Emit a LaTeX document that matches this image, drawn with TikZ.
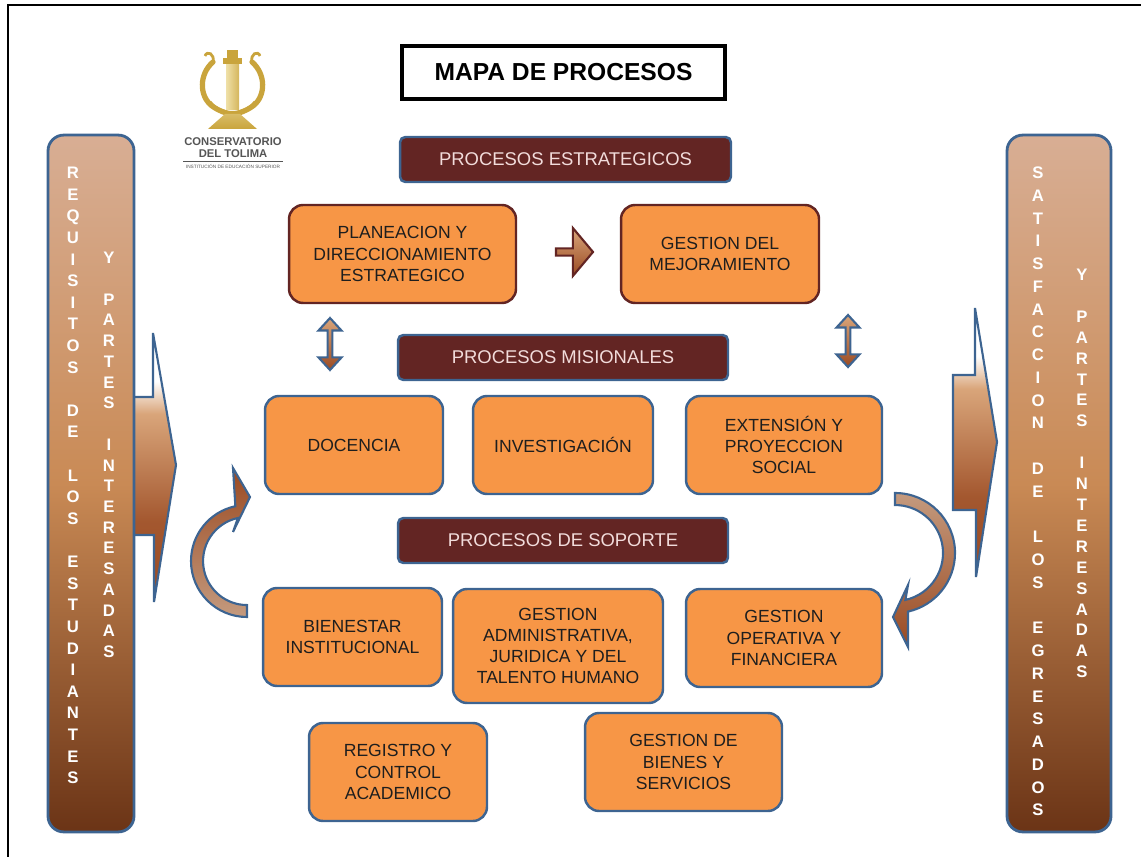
\documentclass[tikz,border=0pt]{standalone}
\usepackage{fontspec}
\setmainfont{Liberation Sans}
\usetikzlibrary{shapes.arrows}
\definecolor{naranja}{HTML}{F79646}
\definecolor{azulborde}{HTML}{3D6491}
\definecolor{vino}{HTML}{632523}
\definecolor{rosado}{HTML}{F2DCDB}
\definecolor{texto}{HTML}{1E1E1E}
\definecolor{canela}{HTML}{D8AE94}
\definecolor{cafemedio}{HTML}{C98A55}
\definecolor{cafeoscuro}{HTML}{6B3416}
\definecolor{flechaclara}{HTML}{D9A57A}
\definecolor{flechaoscura}{HTML}{9A4A22}
\definecolor{curvaclara}{HTML}{C49A7E}
\definecolor{oro}{HTML}{C9A43C}
\definecolor{oroclaro}{HTML}{EFE0A8}
\definecolor{gris}{HTML}{555555}
\pgfdeclareverticalshading{flechagrande}{100bp}{color(0bp)=(flechaoscura); color(25bp)=(flechaoscura); color(40bp)=(flechaoscura!85!flechaclara); color(60bp)=(flechaclara); color(66bp)=(white); color(100bp)=(white)}

\begin{document}
\begin{tikzpicture}[x=0.02cm,y=-0.02cm,
  proceso/.style={draw=azulborde, line width=1.4pt, fill=naranja, rounded corners=8pt,
    align=center, text=texto, font=\fontsize{10}{12}\selectfont, minimum height=1.96cm, inner sep=2pt},
  estrategico/.style={proceso, draw=vino},
  encabezado/.style={draw=azulborde, line width=1.4pt, fill=vino, rounded corners=3pt,
    text=rosado, font=\fontsize{10.5}{12}\selectfont, minimum width=6.62cm, minimum height=0.9cm},
  barra/.style={draw=azulborde, line width=1.6pt, rounded corners=9pt, minimum height=13.94cm,
    top color=canela, bottom color=cafeoscuro, middle color=cafemedio},
  letras/.style={text=white, align=center, inner sep=0pt, font=\bfseries\fontsize{9.5}{#1}\selectfont},
  bloque/.style={draw=azulborde, line width=1.2pt},
  doble/.style={bloque, double arrow, shape border rotate=90, minimum height=1.04cm, minimum width=0.46cm,
    double arrow head extend=0.08cm, double arrow tip angle=85, inner sep=0pt,
    top color=flechaclara, bottom color=flechaoscura}]
\useasboundingbox (0,0) rectangle (1141,857);

% marco
\draw[line width=1.6pt] (8,857) -- (8,5) -- (1141,5);

% logo
\draw[oro, line width=3pt, line cap=round] (213,62) .. controls (199,74) and (199,96) .. (212,106) .. controls (219,111) and (226,113) .. (232,115);
\draw[oro, line width=3pt, line cap=round] (252,62) .. controls (266,74) and (266,96) .. (253,106) .. controls (246,111) and (239,113) .. (233,115);
\draw[oro, line width=1.6pt] (213,62) .. controls (215,54) and (207,50) .. (205,56);
\draw[oro, line width=1.6pt] (252,62) .. controls (250,54) and (258,50) .. (260,56);
\draw[oro, line width=1.8pt] (210,102) .. controls (220,116) and (245,116) .. (255,102);
\shade[left color=oroclaro, right color=oro!70!oroclaro] (226,64) rectangle (239,110);
\fill[oro] (223,58) rectangle (242,64);
\fill[oro] (227,50) rectangle (238,58);
\shade[top color=oro!60!oroclaro, bottom color=oro] (225,114) -- (240,114) -- (257,129) -- (208,129) -- cycle;
\node[font=\bfseries\fontsize{6.4}{7}\selectfont, text=gris, inner sep=0pt] (conserv) at (233,142) {CONSERVATORIO};
\node[font=\bfseries\fontsize{6.4}{7}\selectfont, text=gris, inner sep=0pt] (tolima) at (233,154) {DEL TOLIMA};
\draw[gris, line width=0.3pt] (183,161) -- (283,161);
\node[font=\fontsize{2.7}{3}\selectfont, text=gris, inner sep=0pt] (ies) at (233,166) {INSTITUCIÓN DE EDUCACIÓN SUPERIOR};

% titulo
\node[draw, line width=2pt, minimum width=6.46cm, minimum height=1.06cm, font=\bfseries\fontsize{14}{16}\selectfont] (mapa) at (563.5,72.5) {MAPA DE PROCESOS};

% estrategicos
\node[encabezado] (estr) at (565.5,159.5) {PROCESOS ESTRATEGICOS};
\node[estrategico, minimum width=4.54cm] (plan) at (402.5,254) {PLANEACION Y\\DIRECCIONAMIENTO\\ESTRATEGICO};
\node[estrategico, minimum width=3.96cm] (mejora) at (720,254) {GESTION DEL\\MEJORAMIENTO};
\node[single arrow, draw=vino, line width=1.2pt, minimum height=0.74cm, minimum width=0.96cm,
  single arrow head extend=0.12cm, single arrow tip angle=100, inner sep=0pt,
  top color=flechaclara, bottom color=flechaoscura] (avance) at (573,252) {};
\node[doble] (enlace1) at (330,344) {};
\node[doble] (enlace2) at (848,341) {};

% misionales
\node[encabezado, minimum width=6.6cm] (mis) at (563,357.5) {PROCESOS MISIONALES};
\node[proceso, minimum width=3.56cm] (docencia) at (354,445) {DOCENCIA};
\node[proceso, minimum width=3.6cm] (invest) at (563,445) {INVESTIGACIÓN};
\node[proceso, minimum width=3.92cm] (extension) at (784,445) {EXTENSIÓN Y\\PROYECCION\\SOCIAL};

% soporte
\node[encabezado, minimum width=6.6cm] (sop) at (563,540.5) {PROCESOS DE SOPORTE};
\node[proceso, minimum width=3.58cm] (bienestar) at (352.5,637) {BIENESTAR\\INSTITUCIONAL};
\node[proceso, minimum width=4.2cm, minimum height=2.28cm] (admin) at (558,646) {GESTION\\ADMINISTRATIVA,\\JURIDICA Y DEL\\TALENTO HUMANO};
\node[proceso, minimum width=3.92cm] (operativa) at (784,638) {GESTION\\OPERATIVA Y\\FINANCIERA};
\node[proceso, minimum width=3.56cm] (registro) at (398,772) {REGISTRO Y\\CONTROL\\ACADEMICO};
\node[proceso, minimum width=3.94cm] (bienes) at (683.5,762) {GESTION DE\\BIENES Y\\SERVICIOS};

% flechas grandes y barras
\draw[bloque, shading=flechagrande] (120,397) -- (153,397) -- (153,333) -- (176,465) -- (154,602) -- (154,535) -- (120,535) -- cycle;
\draw[bloque, shading=flechagrande] (953,375) -- (975,375) -- (975,308) -- (997,442) -- (976,577) -- (976,510) -- (953,510) -- cycle;
\node[barra, minimum width=1.72cm] (entrada) at (91,483.5) {};
\node[barra, minimum width=2.08cm] (salida) at (1059,483.5) {};
\node[letras=12.3pt] (requisitos) at (73,475.5) {R\\E\\Q\\U\\I\\S\\I\\T\\O\\S\\~\\D\\E\\~\\L\\O\\S\\~\\E\\S\\T\\U\\D\\I\\A\\N\\T\\E\\S};
\node[letras=11.8pt] (partes1) at (109,455) {Y\\~\\P\\A\\R\\T\\E\\S\\~\\I\\N\\T\\E\\R\\E\\S\\A\\D\\A\\S};
\node[letras=12.95pt] (satisf) at (1038,491.5) {S\\A\\T\\I\\S\\F\\A\\C\\C\\I\\O\\N\\~\\D\\E\\~\\L\\O\\S\\~\\E\\G\\R\\E\\S\\A\\D\\O\\S};
\node[letras=11.9pt] (partes2) at (1082,473.5) {Y\\~\\P\\A\\R\\T\\E\\S\\~\\I\\N\\T\\E\\R\\E\\S\\A\\D\\A\\S};

% flechas curvas
\draw[bloque, top color=flechaoscura, bottom color=curvaclara] (247,617) arc[start angle=90, end angle=258, radius=56] -- (233,468) -- (250,497) -- (233,532) -- (237.9,518) arc[start angle=258, end angle=90, radius=44] -- cycle;
\draw[bloque, top color=curvaclara, bottom color=flechaoscura] (895,493) arc[start angle=270, end angle=437.5, radius=60] -- (908,647) -- (893,617) -- (908,585) -- (905.4,599.9) arc[start angle=437.5, end angle=270, radius=48] -- cycle;
\end{tikzpicture}
\end{document}
